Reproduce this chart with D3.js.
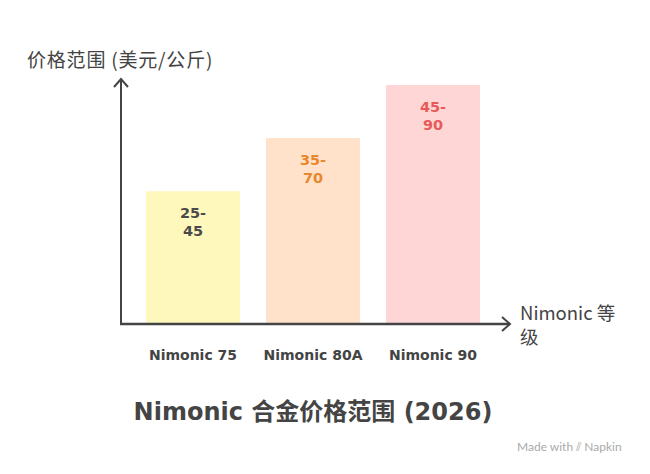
<!DOCTYPE html>
<html><head><meta charset="utf-8">
<script src="https://cdn.jsdelivr.net/npm/d3@7"></script>
<style>body{margin:0;background:#fff}</style>
</head><body>
<svg id="c" width="650" height="474"></svg>
<script>
const categories = ["Nimonic 75", "Nimonic 80A", "Nimonic 90"];
const lowValues = [25, 35, 45];
const highValues = [45, 70, 90];
const fills = ["#FFF8BD", "#FFE2C9", "#FFD6D6"];
const textColors = ["#4A4A4A", "#E8872E", "#E85A5A"];

const svg = d3.select("#c");
const baseY = 324, topY = 85;
const x = d3.scaleBand().domain(categories).range([146, 480]).paddingInner(26/120).paddingOuter(0);
const y = d3.scaleLinear().domain([0, 45]).range([baseY, topY]);
const font = "'DejaVu Sans','Noto Sans CJK SC',sans-serif";
const cjk = "'Noto Sans CJK SC','Lato',sans-serif";

svg.selectAll("rect.bar").data(categories).enter().append("rect")
  .attr("x", d => x(d)).attr("width", x.bandwidth())
  .attr("y", (d,i) => y(lowValues[i])).attr("height", (d,i) => baseY - y(lowValues[i]))
  .attr("fill", (d,i) => fills[i]);

const lbl = svg.selectAll("text.val").data(categories).enter().append("text")
  .attr("text-anchor", "middle").attr("font-family", font).attr("font-weight", "bold")
  .attr("font-size", 14.5).attr("fill", (d,i) => textColors[i]);
lbl.append("tspan").attr("x", d => x(d) + x.bandwidth()/2).attr("y", (d,i) => y(lowValues[i]) + 27)
  .text((d,i) => lowValues[i] + "-");
lbl.append("tspan").attr("x", d => x(d) + x.bandwidth()/2).attr("y", (d,i) => y(lowValues[i]) + 45)
  .text((d,i) => highValues[i]);

// axes
const axisColor = "#444";
svg.append("line").attr("x1", 121).attr("x2", 121).attr("y1", baseY).attr("y2", 79)
  .attr("stroke", axisColor).attr("stroke-width", 2);
svg.append("path").attr("d", "M114,87 L121,79 L128,87").attr("fill", "none").attr("stroke", axisColor).attr("stroke-width", 2);
svg.append("line").attr("x1", 120).attr("x2", 510).attr("y1", baseY).attr("y2", baseY)
  .attr("stroke", axisColor).attr("stroke-width", 2.5);
svg.append("path").attr("d", "M502,317 L510,324 L502,331").attr("fill", "none").attr("stroke", axisColor).attr("stroke-width", 2);

// category labels
svg.selectAll("text.cat").data(categories).enter().append("text")
  .attr("x", d => x(d) + x.bandwidth()/2).attr("y", 360)
  .attr("text-anchor", "middle").attr("font-family", font).attr("font-weight", "bold")
  .attr("font-size", 14).attr("fill", "#444").text(d => d);

// axis titles
svg.append("text").attr("x", 27).attr("y", 67).attr("font-family", cjk).attr("font-size", 19)
  .attr("letter-spacing", 0.8).attr("fill", "#444").text("价格范围 (美元/公斤)");
const xt = svg.append("text").attr("font-family", cjk).attr("font-size", 18.5).attr("fill", "#444");
xt.append("tspan").attr("x", 520).attr("y", 320).text("Nimonic 等");
xt.append("tspan").attr("x", 520).attr("y", 344).text("级");

// title
svg.append("text").attr("x", 313).attr("y", 420).attr("text-anchor", "middle")
  .attr("font-family", font).attr("font-weight", "bold").attr("font-size", 24).attr("fill", "#444")
  .text("Nimonic 合金价格范围 (2026)");

// watermark
svg.append("text").attr("x", 517).attr("y", 451).attr("font-family", "'Lato',sans-serif").attr("font-size", 12)
  .attr("fill", "#aaa").text("Made with ⫽ Napkin");
</script>
</body></html>
